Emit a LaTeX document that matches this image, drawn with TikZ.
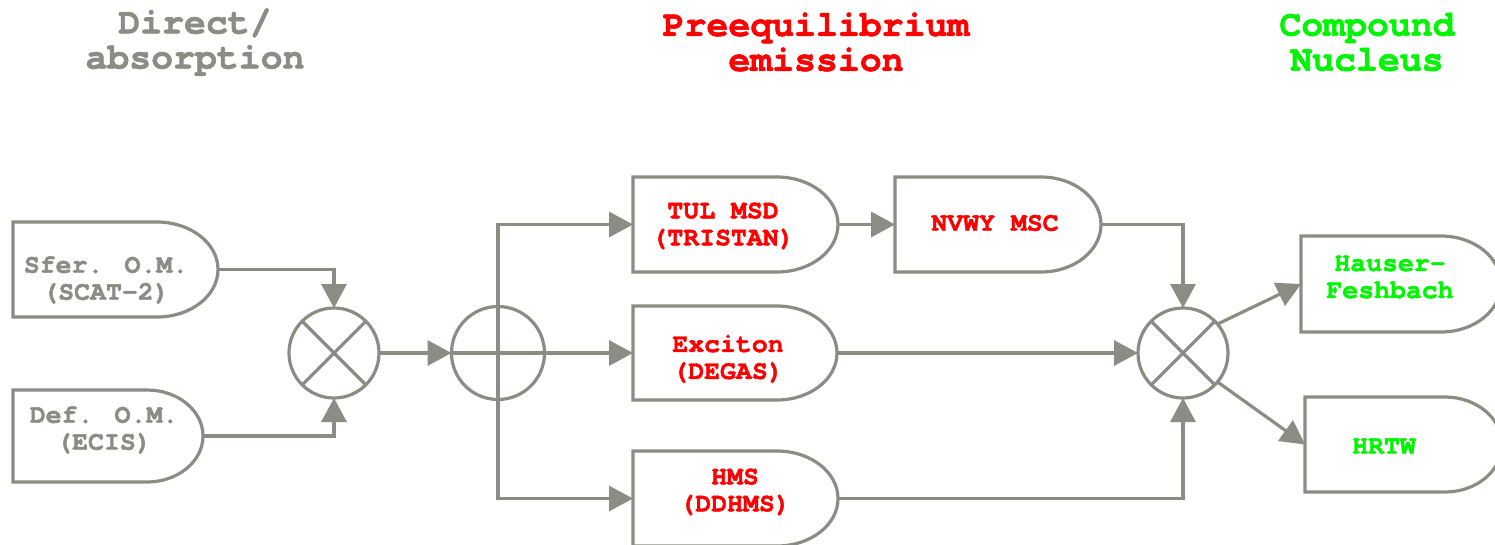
\documentclass[tikz,border=0pt]{standalone}
\usepackage{fontspec}
\newfontfamily\monofont[FakeBold=1.6]{TeX Gyre Cursor}
\newfontfamily\headfont[FakeBold=1.6]{TeX Gyre Cursor}
\usetikzlibrary{arrows.meta}
\definecolor{wiregray}{RGB}{138,141,131}
\definecolor{preqred}{RGB}{255,0,0}
\definecolor{cngreen}{RGB}{0,245,0}

% gate-like block: #1 name, #2 left, #3 top, #4 bottom, #5 start of round end, #6 tip
\newcommand\gateshape[6]{%
  \pgfmathsetmacro\gatery{(#4-#3)/2}%
  \pgfmathsetmacro\gaterx{#6-#5}%
  \draw[gate] (#2,#3) -- (#5,#3)
    arc[start angle=90, end angle=-90, x radius=\gaterx pt, y radius=\gatery pt]
    -- (#2,#4) -- cycle;
  \coordinate (#1-in) at (#2,{(#3+#4)/2});
  \coordinate (#1-out) at (#6,{(#3+#4)/2});
}

\tikzset{
  gate/.style={draw=wiregray, line width=3.2pt, fill=white},
  wireline/.style={draw=wiregray, line width=3.2pt},
  flow/.style={wireline, -{Triangle[length=24pt,width=25pt]}},
  junction/.style={circle, draw=wiregray, line width=3.2pt, minimum size=90pt,
    inner sep=0pt, outer sep=0pt},
  boxtext/.style={font=\monofont\bfseries\fontsize{26.5}{27}\selectfont,
    align=center, inner sep=0pt},
  head/.style={font=\headfont\bfseries\fontsize{36.5}{35}\selectfont,
    align=center, inner sep=0pt},
}

\begin{document}
\begin{tikzpicture}[x=1pt,y=-1pt]
\useasboundingbox (0,0) rectangle (1495,544);
\clip (0,0) rectangle (1495,544);

% column headings
\node[head, text=wiregray] (h-direct) at (195,42) {Direct/\\absorption};
\node[head, text=preqred] (h-preeq) at (816,42) {Preequilibrium\\emission};
\node[head, text=cngreen] (h-cn) at (1367,42) {Compound\\Nucleus};

% blocks
\gateshape{sfer}{13}{222}{317}{157}{218}
\gateshape{def}{13}{390}{482}{147}{203}
\gateshape{tul}{633}{177}{272}{777}{838}
\gateshape{exc}{633}{306}{400}{777}{837}
\gateshape{hms}{633}{451}{546}{777}{838}
\gateshape{nvwy}{895}{177}{272}{1041}{1101}
\gateshape{hf}{1301}{236}{332}{1441}{1501}
\gateshape{hrtw}{1305}{397}{492}{1445}{1502}

\node[boxtext, text=wiregray] (sfer-label) at (106,280) {Sfer. O.M.\\(SCAT-2)};
\node[boxtext, text=wiregray] (def-label) at (104,430) {Def. O.M.\\(ECIS)};
\node[boxtext, text=preqred] (tul-label) at (723,226) {TUL MSD\\(TRISTAN)};
\node[boxtext, text=preqred] (exc-label) at (728,359) {Exciton\\(DEGAS)};
\node[boxtext, text=preqred] (hms-label) at (735,492) {HMS\\(DDHMS)};
\node[boxtext, text=preqred] (nvwy-label) at (995,223) {NVWY MSC};
\node[boxtext, text=cngreen] (hf-label) at (1390,277) {Hauser-\\Feshbach};
\node[boxtext, text=cngreen] (hrtw-label) at (1384,446) {HRTW};

% junctions
\node[junction] (mul1) at (334,353) {};
\node[junction, minimum size=93pt] (add) at (498,353) {};
\node[junction] (mul2) at (1183,353) {};
\draw[wireline] (mul1.north west) -- (mul1.south east)
                (mul1.north east) -- (mul1.south west);
\draw[wireline] (mul2.north west) -- (mul2.south east)
                (mul2.north east) -- (mul2.south west);

% connections
\draw[flow] (sfer-out) -| (mul1.north);
\draw[flow] (def-out) -| (mul1.south);
\draw[flow] (mul1.east) -- (add.west);
\draw[flow] (add.west) -- (exc-in);
\draw[flow] (add.center) |- (tul-in);
\draw[flow] (add.center) |- (hms-in);
\draw[flow] (tul-out) -- (nvwy-in);
\draw[flow] (nvwy-out) -| (mul2.north);
\draw[flow] (exc-out) -- (mul2.west);
\draw[flow] (hms-out) -| (mul2.south);
\draw[flow] (mul2.40) -- (hf-in);
\draw[flow] (mul2.-40) -- (hrtw-in);
\end{tikzpicture}
\end{document}
